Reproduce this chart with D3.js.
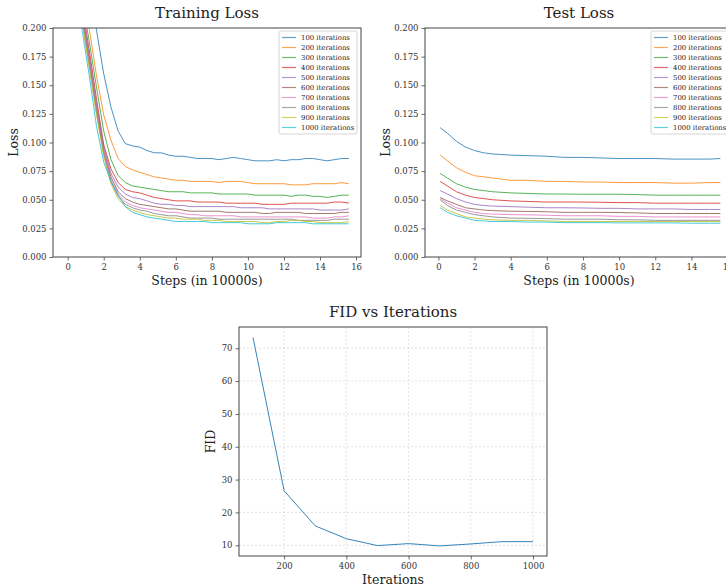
<!DOCTYPE html>
<html>
<head>
<meta charset="utf-8">
<script src="https://cdn.jsdelivr.net/npm/d3@7"></script>
<style>
  body { margin: 0; background: #fff; }
  svg text { font-family: "DejaVu Serif", serif; }
</style>
</head>
<body>
<svg id="chart" width="726" height="586"></svg>
<script>
// legend labels and colours
const runNames = ["100 iterations", "200 iterations", "300 iterations", "400 iterations", "500 iterations",
  "600 iterations", "700 iterations", "800 iterations", "900 iterations", "1000 iterations"];
const runColors = ["#1f77b4", "#ff7f0e", "#2ca02c", "#d62728", "#9467bd",
  "#8c564b", "#e377c2", "#7f7f7f", "#bcbd22", "#17becf"];

// training loss, steps in 10000s
const trainSteps = [0, 0.4, 0.8, 1.2, 1.6, 2.0, 2.4, 2.8, 3.2, 3.6, 4.0, 4.4, 4.8, 5.2, 5.6, 6.0, 6.4, 6.8, 7.2, 7.6,
  8.0, 8.4, 8.8, 9.2, 9.6, 10.0, 10.4, 10.8, 11.2, 11.6, 12.0, 12.4, 12.8, 13.2, 13.6, 14.0, 14.4, 14.8, 15.2, 15.6];
const train100 = [0.42, 0.34, 0.28, 0.235, 0.198, 0.160, 0.131, 0.110, 0.099, 0.097, 0.096, 0.093, 0.091, 0.091, 0.089, 0.088, 0.088, 0.087, 0.086, 0.086,
  0.086, 0.085, 0.086, 0.087, 0.086, 0.085, 0.084, 0.084, 0.084, 0.085, 0.084, 0.085, 0.085, 0.086, 0.086, 0.085, 0.084, 0.085, 0.086, 0.086];
const train200 = [0.36, 0.29, 0.235, 0.199, 0.158, 0.124, 0.102, 0.086, 0.079, 0.076, 0.074, 0.072, 0.070, 0.069, 0.068, 0.067, 0.067, 0.066, 0.066, 0.066,
  0.066, 0.065, 0.066, 0.066, 0.066, 0.065, 0.064, 0.064, 0.064, 0.064, 0.064, 0.063, 0.063, 0.063, 0.064, 0.064, 0.064, 0.064, 0.065, 0.064];
const train300 = [0.34, 0.28, 0.225, 0.188, 0.148, 0.110, 0.085, 0.071, 0.065, 0.062, 0.061, 0.060, 0.059, 0.058, 0.057, 0.057, 0.057, 0.056, 0.056, 0.056,
  0.056, 0.055, 0.055, 0.055, 0.055, 0.055, 0.054, 0.054, 0.054, 0.054, 0.054, 0.053, 0.054, 0.054, 0.053, 0.053, 0.052, 0.053, 0.054, 0.054];
const train400 = [0.33, 0.27, 0.22, 0.18, 0.138, 0.098, 0.077, 0.065, 0.059, 0.057, 0.056, 0.054, 0.052, 0.051, 0.050, 0.049, 0.049, 0.049, 0.048, 0.048,
  0.048, 0.048, 0.047, 0.047, 0.047, 0.047, 0.047, 0.046, 0.046, 0.046, 0.046, 0.047, 0.047, 0.047, 0.047, 0.047, 0.047, 0.048, 0.048, 0.047];
const train500 = [0.33, 0.265, 0.215, 0.176, 0.134, 0.096, 0.073, 0.061, 0.055, 0.052, 0.051, 0.049, 0.047, 0.046, 0.046, 0.045, 0.045, 0.044, 0.044, 0.044,
  0.044, 0.044, 0.044, 0.044, 0.043, 0.043, 0.043, 0.043, 0.042, 0.042, 0.042, 0.042, 0.042, 0.042, 0.042, 0.041, 0.041, 0.041, 0.041, 0.042];
const train600 = [0.32, 0.26, 0.212, 0.172, 0.130, 0.093, 0.070, 0.057, 0.051, 0.048, 0.046, 0.045, 0.044, 0.043, 0.042, 0.042, 0.041, 0.040, 0.040, 0.040,
  0.040, 0.040, 0.039, 0.039, 0.039, 0.039, 0.039, 0.038, 0.038, 0.039, 0.039, 0.039, 0.039, 0.038, 0.038, 0.038, 0.038, 0.038, 0.039, 0.039];
const train700 = [0.32, 0.258, 0.21, 0.17, 0.128, 0.091, 0.068, 0.055, 0.048, 0.045, 0.043, 0.042, 0.041, 0.040, 0.039, 0.039, 0.038, 0.037, 0.037, 0.036,
  0.036, 0.036, 0.036, 0.036, 0.035, 0.035, 0.035, 0.035, 0.035, 0.035, 0.035, 0.035, 0.035, 0.035, 0.034, 0.034, 0.034, 0.035, 0.035, 0.036];
const train800 = [0.31, 0.255, 0.207, 0.167, 0.126, 0.090, 0.066, 0.053, 0.046, 0.043, 0.041, 0.040, 0.038, 0.037, 0.036, 0.036, 0.035, 0.034, 0.034, 0.034,
  0.034, 0.033, 0.033, 0.033, 0.033, 0.033, 0.033, 0.033, 0.033, 0.033, 0.033, 0.033, 0.032, 0.032, 0.032, 0.032, 0.032, 0.033, 0.033, 0.033];
const train900 = [0.31, 0.253, 0.205, 0.165, 0.124, 0.088, 0.064, 0.051, 0.044, 0.041, 0.039, 0.037, 0.036, 0.035, 0.034, 0.034, 0.033, 0.033, 0.033, 0.032,
  0.032, 0.032, 0.031, 0.031, 0.031, 0.031, 0.031, 0.030, 0.030, 0.031, 0.031, 0.032, 0.032, 0.031, 0.031, 0.030, 0.030, 0.030, 0.030, 0.031];
const train1000 = [0.29, 0.238, 0.198, 0.158, 0.114, 0.083, 0.066, 0.054, 0.044, 0.039, 0.037, 0.035, 0.034, 0.033, 0.032, 0.031, 0.031, 0.031, 0.031, 0.031,
  0.030, 0.030, 0.030, 0.030, 0.030, 0.029, 0.029, 0.029, 0.029, 0.030, 0.030, 0.030, 0.030, 0.030, 0.029, 0.029, 0.029, 0.029, 0.029, 0.029];

// test loss
const testSteps = [0.1, 0.5, 1.0, 1.5, 2.0, 2.5, 3.0, 4.0, 5.0, 6.0, 7.0, 8.0, 9.0, 10.0, 11.0, 12.0, 13.0, 14.0, 15.0, 15.6];
const test100 = [0.113, 0.108, 0.101, 0.096, 0.093, 0.091, 0.090, 0.089, 0.0885, 0.088, 0.087, 0.087, 0.0865, 0.086, 0.086, 0.086, 0.0855, 0.0855, 0.0855, 0.086];
const test200 = [0.089, 0.084, 0.078, 0.074, 0.071, 0.070, 0.069, 0.067, 0.067, 0.066, 0.066, 0.0655, 0.0655, 0.065, 0.065, 0.065, 0.0645, 0.0645, 0.065, 0.065];
const test300 = [0.073, 0.069, 0.064, 0.061, 0.059, 0.058, 0.057, 0.056, 0.0555, 0.055, 0.055, 0.0548, 0.0548, 0.0548, 0.0545, 0.054, 0.054, 0.054, 0.054, 0.054];
const test400 = [0.066, 0.062, 0.057, 0.054, 0.052, 0.051, 0.050, 0.049, 0.0485, 0.048, 0.048, 0.048, 0.0478, 0.0475, 0.0475, 0.047, 0.047, 0.047, 0.047, 0.047];
const test500 = [0.058, 0.055, 0.051, 0.048, 0.046, 0.045, 0.0445, 0.044, 0.0435, 0.043, 0.043, 0.0428, 0.0425, 0.0425, 0.042, 0.042, 0.042, 0.0415, 0.0415, 0.0415];
const test600 = [0.052, 0.049, 0.046, 0.043, 0.042, 0.041, 0.0405, 0.040, 0.0398, 0.0395, 0.039, 0.039, 0.039, 0.0388, 0.0385, 0.038, 0.038, 0.038, 0.038, 0.038];
const test700 = [0.051, 0.047, 0.043, 0.041, 0.039, 0.038, 0.0375, 0.037, 0.0368, 0.0365, 0.036, 0.036, 0.036, 0.0355, 0.0355, 0.035, 0.035, 0.035, 0.035, 0.035];
const test800 = [0.050, 0.045, 0.041, 0.039, 0.037, 0.036, 0.035, 0.034, 0.0338, 0.0335, 0.033, 0.033, 0.033, 0.0325, 0.0325, 0.032, 0.032, 0.032, 0.032, 0.032];
const test900 = [0.045, 0.041, 0.038, 0.035, 0.034, 0.033, 0.0325, 0.032, 0.032, 0.0315, 0.031, 0.031, 0.031, 0.031, 0.031, 0.031, 0.031, 0.031, 0.031, 0.031];
const test1000 = [0.043, 0.039, 0.036, 0.034, 0.032, 0.0315, 0.031, 0.031, 0.0305, 0.0305, 0.030, 0.030, 0.030, 0.0298, 0.0298, 0.0298, 0.0298, 0.0295, 0.0295, 0.0295];

// FID per number of iterations
const fidIterations = [100, 200, 300, 400, 500, 600, 700, 800, 900, 1000];
const fidValues = [73.3, 26.6, 15.9, 12.0, 9.9, 10.5, 9.8, 10.4, 11.1, 11.1];

const lossTicks = [0, 0.025, 0.05, 0.075, 0.1, 0.125, 0.15, 0.175, 0.2];
const stepTicks = [0, 2, 4, 6, 8, 10, 12, 14, 16];
const fidTicks = [10, 20, 30, 40, 50, 60, 70];
const iterTicks = [200, 400, 600, 800, 1000];

const trainSeries = [train100, train200, train300, train400, train500, train600, train700, train800, train900, train1000];
const testSeries = [test100, test200, test300, test400, test500, test600, test700, test800, test900, test1000];

const svg = d3.select("#chart");
const panelW = 308, panelH = 229;
const spine = "#444";

function styleAxis(g) {
  g.select(".domain").remove();
  g.selectAll(".tick line").attr("stroke", spine).attr("stroke-width", 0.8);
  g.selectAll(".tick text").attr("fill", "#333").style("font-size", "8.5px");
}

function frame(g, w, h) {
  g.append("rect").attr("width", w).attr("height", h)
    .attr("fill", "none").attr("stroke", spine).attr("stroke-width", 1);
}

function titles(g, w, h, title, xLabel, yLabel, yLabelX) {
  g.append("text").attr("x", w / 2).attr("y", -10).attr("text-anchor", "middle")
    .attr("fill", "#222").style("font-size", "15px").text(title);
  g.append("text").attr("x", w / 2).attr("y", h + 28).attr("text-anchor", "middle")
    .attr("fill", "#222").style("font-size", "12.5px").text(xLabel);
  g.append("text").attr("transform", `translate(${yLabelX},${h / 2}) rotate(-90)`)
    .attr("text-anchor", "middle").attr("fill", "#222").style("font-size", "12.5px").text(yLabel);
}

function lossPanel(id, left, top, steps, series, xDomain, title, legendX) {
  const g = svg.append("g").attr("transform", `translate(${left},${top})`);
  const x = d3.scaleLinear().domain(xDomain).range([0, panelW]);
  const y = d3.scaleLinear().domain([0, 0.2]).range([panelH, 0]);

  svg.append("clipPath").attr("id", id).append("rect").attr("width", panelW).attr("height", panelH);

  const line = d3.line().x((d, i) => x(steps[i])).y(d => y(d));
  g.append("g").attr("clip-path", `url(#${id})`)
    .selectAll("path").data(series).join("path")
    .attr("d", line).attr("fill", "none")
    .attr("stroke", (d, i) => runColors[i]).attr("stroke-width", 1).attr("stroke-opacity", 0.8);

  g.append("g").attr("transform", `translate(0,${panelH})`)
    .call(d3.axisBottom(x).tickValues(stepTicks).tickSize(3.5).tickPadding(3)).call(styleAxis);
  g.append("g")
    .call(d3.axisLeft(y).tickValues(lossTicks).tickFormat(d3.format(".3f")).tickSize(3.5).tickPadding(3)).call(styleAxis);
  frame(g, panelW, panelH);
  titles(g, panelW, panelH, title, "Steps (in 10000s)", "Loss", -35);

  // legend
  const lg = g.append("g").attr("transform", `translate(${legendX},3)`);
  lg.append("rect").attr("width", 78).attr("height", 103).attr("rx", 2)
    .attr("fill", "#fff").attr("fill-opacity", 0.8).attr("stroke", "#ccc").attr("stroke-width", 0.8);
  runNames.forEach((name, i) => {
    const item = lg.append("g").attr("transform", `translate(0,${6.5 + i * 10})`);
    item.append("line").attr("x1", 3).attr("x2", 17)
      .attr("stroke", runColors[i]).attr("stroke-width", 1.2).attr("stroke-opacity", 0.7);
    item.append("text").attr("x", 22).attr("dy", "0.35em").attr("fill", "#222")
      .style("font-size", "6.9px").text(name);
  });
}

lossPanel("clipTrain", 53, 28, trainSteps, trainSeries, [-0.815, 16.275], "Training Loss", 226);
lossPanel("clipTest", 425, 28, testSteps, testSeries, [-0.74, 16.3], "Test Loss", 226);

// FID panel
(function () {
  const g = svg.append("g").attr("transform", "translate(239,327)");
  const x = d3.scaleLinear().domain([55, 1045]).range([0, panelW]);
  const y = d3.scaleLinear().domain([6.73, 76.47]).range([panelH, 0]);

  const grid = g.append("g").attr("stroke", "#b0b0b0").attr("stroke-width", 0.6)
    .attr("stroke-dasharray", "2,2").attr("stroke-opacity", 0.6);
  grid.selectAll(".gx").data(iterTicks).join("line")
    .attr("x1", d => x(d)).attr("x2", d => x(d)).attr("y1", 0).attr("y2", panelH);
  grid.selectAll(".gy").data(fidTicks).join("line")
    .attr("y1", d => y(d)).attr("y2", d => y(d)).attr("x1", 0).attr("x2", panelW);

  g.append("path").datum(fidValues)
    .attr("d", d3.line().x((d, i) => x(fidIterations[i])).y(d => y(d)))
    .attr("fill", "none").attr("stroke", runColors[0]).attr("stroke-width", 1).attr("stroke-opacity", 0.9);

  g.append("g").attr("transform", `translate(0,${panelH})`)
    .call(d3.axisBottom(x).tickValues(iterTicks).tickFormat(d3.format("d")).tickSize(3.5).tickPadding(3)).call(styleAxis);
  g.append("g")
    .call(d3.axisLeft(y).tickValues(fidTicks).tickSize(3.5).tickPadding(3)).call(styleAxis);
  frame(g, panelW, panelH);
  titles(g, panelW, panelH, "FID vs Iterations", "Iterations", "FID", -24);
})();
</script>
</body>
</html>
